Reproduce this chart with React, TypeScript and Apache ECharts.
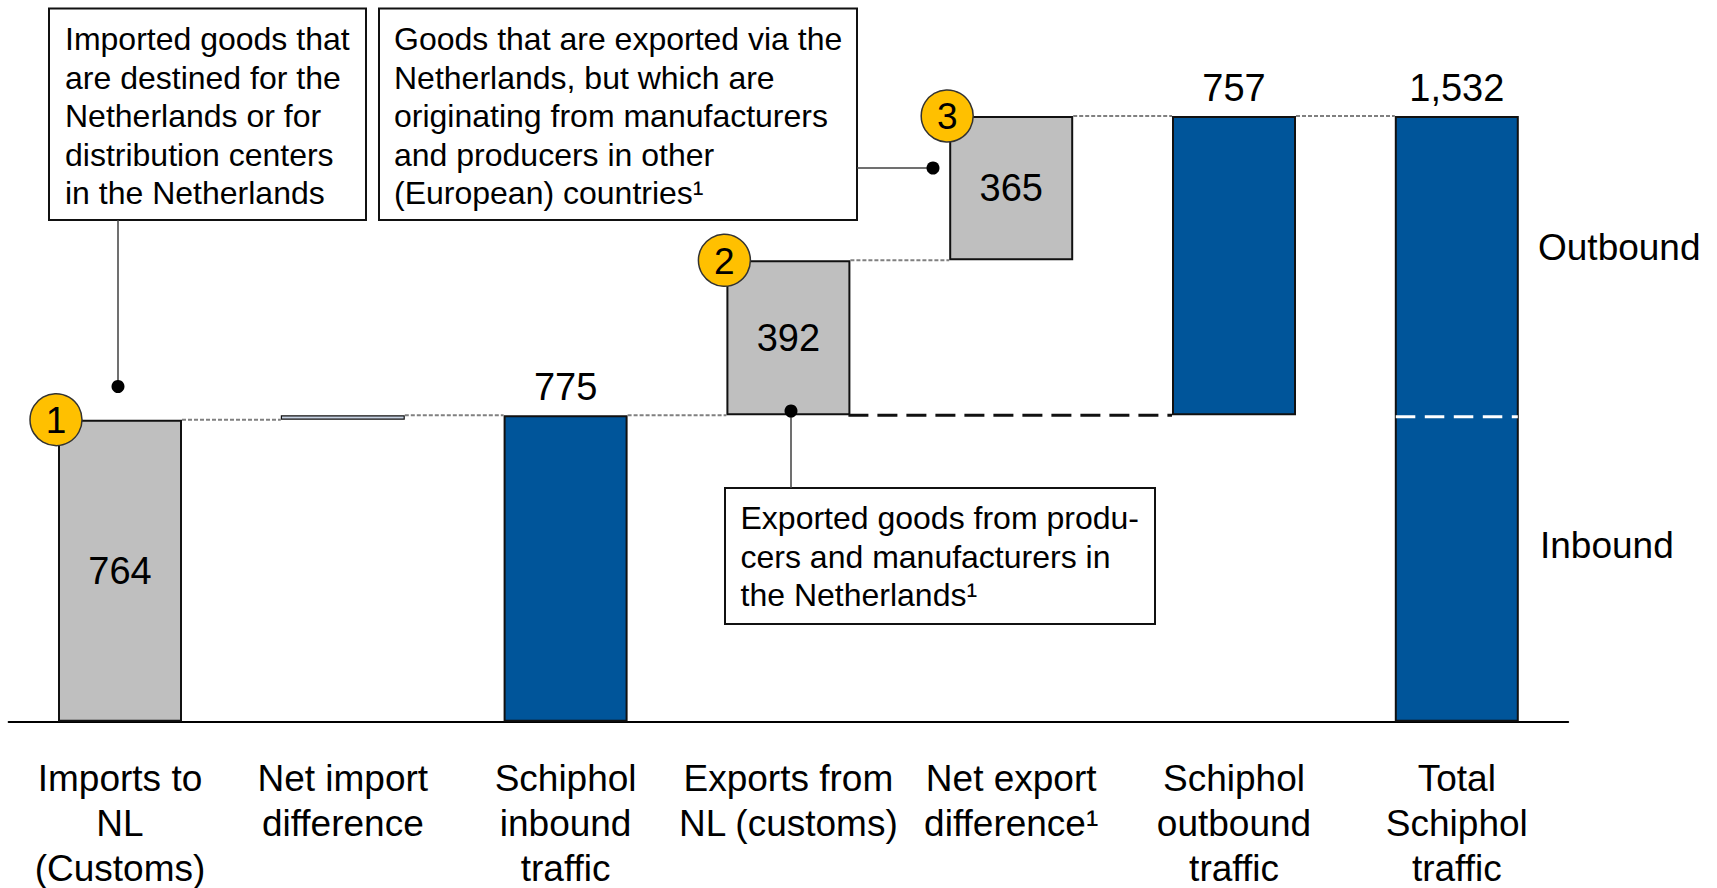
import React, { useEffect, useRef } from "react";
import * as echarts from "echarts";

const categories = [
  "Imports to\nNL\n(Customs)",
  "Net import\ndifference",
  "Schiphol\ninbound\ntraffic",
  "Exports from\nNL (customs)",
  "Net export\ndifference¹",
  "Schiphol\noutbound\ntraffic",
  "Total\nSchiphol\ntraffic",
];
const values = [764, 11, 775, 392, 365, 757, 1532];
const bases = [0, 764, 0, 775, 1167, 775, 0];
const barKinds = ["grey", "diff", "blue", "grey", "grey", "blue", "blue"];
const labelPositions = ["inside", "none", "top", "inside", "inside", "top", "top"];
const inboundLevel = 775; // inbound / outbound split
const markerCats = [0, 3, 4];
const markerLabels = ["1", "2", "3"];
const sideLabels = ["Outbound", "Inbound"];

const FONT = "'Liberation Sans', Arial, Helvetica, sans-serif";
const BAR_W = 124;
const COLORS: Record<string, string> = {
  grey: "#BFBFBF",
  diff: "#C8D3E3",
  blue: "#00559A",
};

export default function App() {
  const ref = useRef<HTMLDivElement>(null);
  useEffect(() => {
    if (!ref.current) return;
    const chart = echarts.init(ref.current, undefined, { renderer: "svg" });

    const tops = values.map((v, i) => v + bases[i]);
    const connectors = tops.slice(0, -1).map((lvl, i) => [i, lvl]);
    const markerData = markerCats.map((c) => [c, tops[c]]);

    const option: any = {
      animation: false,
      grid: {
        left: 8.6,
        right: 148.8,
        top: 89.1,
        bottom: 166.3,
        containLabel: false,
        outerBoundsMode: "none",
      },
      xAxis: {
        type: "category",
        data: categories,
        axisLine: { show: true, lineStyle: { color: "#000", width: 2 } },
        axisTick: { show: false },
        axisLabel: {
          interval: 0,
          color: "#000",
          fontFamily: FONT,
          fontSize: 37,
          lineHeight: 45,
          margin: 34,
        },
      },
      yAxis: {
        type: "value",
        min: 0,
        max: 1600,
        show: false,
        splitLine: { show: false },
      },
      series: [
        {
          type: "bar",
          stack: "w",
          silent: true,
          barWidth: BAR_W,
          itemStyle: { color: "transparent", borderWidth: 0 },
          data: bases,
          z: 1,
        },
        {
          type: "bar",
          stack: "w",
          barWidth: BAR_W,
          z: 2,
          data: values.map((v, i) => ({
            value: v,
            itemStyle: {
              color: COLORS[barKinds[i]],
              borderColor: "#111",
              borderWidth: barKinds[i] === "diff" ? 1.2 : 2,
            },
            label: {
              show: labelPositions[i] !== "none",
              position: labelPositions[i] === "none" ? "inside" : labelPositions[i],
              distance: 9,
              color: "#000",
              fontFamily: FONT,
              fontSize: 38,
              formatter: () => v.toLocaleString("en-US"),
            },
          })),
        },
        {
          type: "custom",
          name: "connectors",
          silent: true,
          clip: false,
          z: 3,
          data: connectors,
          renderItem: (params: any, api: any) => {
            const i = api.value(0);
            const lvl = api.value(1);
            const a = api.coord([i, lvl]);
            const b = api.coord([i + 1, lvl]);
            return {
              type: "line",
              shape: { x1: a[0] + BAR_W / 2, y1: a[1], x2: b[0] - BAR_W / 2, y2: b[1] },
              style: { stroke: "#808080", lineWidth: 2, lineDash: [4, 2] },
            };
          },
        },
        {
          type: "custom",
          name: "splits",
          silent: true,
          clip: false,
          z: 4,
          data: [[3, inboundLevel, 5], [6, inboundLevel, 6]],
          renderItem: (params: any, api: any) => {
            const i = api.value(0);
            const lvl = api.value(1);
            const j = api.value(2);
            const a = api.coord([i, lvl]);
            const b = api.coord([j, lvl]);
            if (params.dataIndex === 0) {
              return {
                type: "line",
                shape: { x1: a[0] + BAR_W / 2 - 2, y1: a[1], x2: b[0] - BAR_W / 2, y2: b[1] },
                style: { stroke: "#111", lineWidth: 3, lineDash: [20, 9] },
              };
            }
            return {
              type: "line",
              shape: { x1: a[0] - BAR_W / 2 + 1, y1: a[1] + 1.5, x2: a[0] + BAR_W / 2 - 1, y2: a[1] + 1.5 },
              style: { stroke: "#FFFFFF", lineWidth: 3, lineDash: [19.5, 9.5] },
            };
          },
        },
        {
          type: "custom",
          name: "markers",
          silent: true,
          clip: false,
          z: 10,
          data: markerData,
          renderItem: (params: any, api: any) => {
            const p = api.coord([api.value(0), api.value(1)]);
            const cx = p[0] - BAR_W / 2 - 2;
            const cy = p[1];
            return {
              type: "group",
              children: [
                {
                  type: "circle",
                  shape: { cx, cy, r: 26 },
                  style: { fill: "#FFC000", stroke: "#333", lineWidth: 1.5 },
                },
                {
                  type: "text",
                  x: cx,
                  y: cy + 1,
                  style: {
                    text: markerLabels[params.dataIndex],
                    align: "center",
                    verticalAlign: "middle",
                    fontFamily: FONT,
                    fontSize: 37,
                    fill: "#000",
                  },
                },
              ],
            };
          },
        },
      ],
      graphic: [
        // Box A
        {
          type: "rect",
          z: 20,
          shape: { x: 49, y: 8.5, width: 317, height: 211.5 },
          style: { fill: "#fff", stroke: "#111", lineWidth: 2 },
        },
        {
          type: "text",
          z: 21,
          x: 65,
          y: 20,
          style: {
            text: "Imported goods that\nare destined for the\nNetherlands or for\ndistribution centers\nin the Netherlands",
            fontFamily: FONT,
            fontSize: 32,
            lineHeight: 38.5,
            fill: "#000",
            align: "left",
            verticalAlign: "top",
          },
        },
        {
          type: "line",
          z: 20,
          shape: { x1: 118, y1: 220, x2: 118, y2: 386.5 },
          style: { stroke: "#404040", lineWidth: 1.5 },
        },
        { type: "circle", z: 20, shape: { cx: 118, cy: 386.5, r: 6.5 }, style: { fill: "#000" } },
        // Box B
        {
          type: "rect",
          z: 20,
          shape: { x: 379, y: 8.5, width: 478, height: 211.5 },
          style: { fill: "#fff", stroke: "#111", lineWidth: 2 },
        },
        {
          type: "text",
          z: 21,
          x: 394,
          y: 20,
          style: {
            text: "Goods that are exported via the\nNetherlands, but which are\noriginating from manufacturers\nand producers in other\n(European) countries¹",
            fontFamily: FONT,
            fontSize: 32,
            lineHeight: 38.5,
            fill: "#000",
            align: "left",
            verticalAlign: "top",
          },
        },
        {
          type: "line",
          z: 20,
          shape: { x1: 857, y1: 168, x2: 933, y2: 168 },
          style: { stroke: "#404040", lineWidth: 1.5 },
        },
        { type: "circle", z: 20, shape: { cx: 933, cy: 168, r: 6.5 }, style: { fill: "#000" } },
        // Box C
        {
          type: "rect",
          z: 20,
          shape: { x: 725, y: 488, width: 430, height: 136 },
          style: { fill: "#fff", stroke: "#111", lineWidth: 2 },
        },
        {
          type: "text",
          z: 21,
          x: 740.5,
          y: 499,
          style: {
            text: "Exported goods from produ-\ncers and manufacturers in\nthe Netherlands¹",
            fontFamily: FONT,
            fontSize: 32,
            lineHeight: 38.5,
            fill: "#000",
            align: "left",
            verticalAlign: "top",
          },
        },
        {
          type: "line",
          z: 20,
          shape: { x1: 791, y1: 411, x2: 791, y2: 488 },
          style: { stroke: "#404040", lineWidth: 1.5 },
        },
        { type: "circle", z: 22, shape: { cx: 791, cy: 411, r: 6.5 }, style: { fill: "#000" } },
        // side labels
        {
          type: "text",
          z: 21,
          x: 1538,
          y: 247,
          style: {
            text: sideLabels[0],
            fontFamily: FONT,
            fontSize: 37,
            fill: "#000",
            align: "left",
            verticalAlign: "middle",
          },
        },
        {
          type: "text",
          z: 21,
          x: 1540,
          y: 545,
          style: {
            text: sideLabels[1],
            fontFamily: FONT,
            fontSize: 37,
            fill: "#000",
            align: "left",
            verticalAlign: "middle",
          },
        },
      ],
    };
    chart.setOption(option);
    return () => chart.dispose();
  }, []);
  return (
    <div
      ref={ref}
      style={{ position: "fixed", left: 0, top: 0, width: 1717, height: 888, background: "#fff" }}
    />
  );
}
